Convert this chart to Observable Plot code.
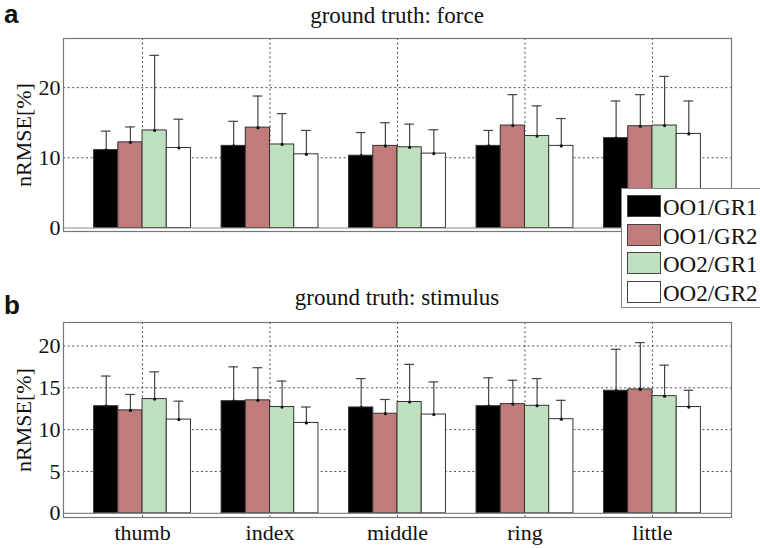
<!DOCTYPE html>
<html><head><meta charset="utf-8">
<script src="https://cdn.jsdelivr.net/npm/d3@7"></script>
<script src="https://cdn.jsdelivr.net/npm/@observablehq/plot@0.6"></script>
<style>
body{margin:0;background:#fff;}
#wrap{position:relative;width:760px;height:548px;overflow:hidden;font-family:"Liberation Serif","Times New Roman",Tinos,"DejaVu Serif",serif;color:#111;}
.abs{position:absolute;white-space:nowrap;}
.title{font-size:23px;line-height:23px;text-align:center;left:63px;width:668px;}
.ylab{font-size:22px;line-height:22px;transform:translate(-50%,-50%) rotate(-90deg);}
.plab{font-family:"Liberation Sans",Arial,sans-serif;font-weight:bold;font-size:26px;line-height:26px;left:4px;}
#legend{left:621px;top:188px;width:150px;height:118px;border:1px solid #888;background:#fff;z-index:5;}
.sw{position:absolute;left:5px;width:32px;height:20px;border:1px solid #444;}
.lt{position:absolute;left:41px;font-size:23px;line-height:21px;}
</style></head><body><div id="wrap"></div>
<script>
const fingers = ["thumb", "index", "middle", "ring", "little"];
const series = ["OO1/GR1", "OO1/GR2", "OO2/GR1", "OO2/GR2"];
const seriesColors = ["#000000", "#c27b7b", "#bfe0bf", "#ffffff"];

// (a) ground truth: force — mean per series (rows) for each finger (cols)
const forceMean = [
  [11.1, 11.7, 10.3, 11.7, 12.8],
  [12.2, 14.3, 11.7, 14.6, 14.5],
  [13.9, 11.9, 11.5, 13.1, 14.6],
  [11.4, 10.5, 10.6, 11.7, 13.4]
];
const forceErr = [
  [2.7, 3.5, 3.3, 2.2, 5.3],
  [2.2, 4.5, 3.3, 4.4, 4.5],
  [10.7, 4.4, 3.3, 4.3, 7.0],
  [4.1, 3.4, 3.4, 3.9, 4.7]
];
// (b) ground truth: stimulus
const stimMean = [
  [12.8, 13.4, 12.65, 12.8, 14.65],
  [12.3, 13.5, 11.9, 13.05, 14.8],
  [13.65, 12.7, 13.3, 12.85, 14.0],
  [11.2, 10.8, 11.8, 11.25, 12.7]
];
const stimErr = [
  [3.6, 4.1, 3.45, 3.4, 4.95],
  [1.9, 3.9, 1.7, 2.85, 5.6],
  [3.25, 3.1, 4.5, 3.25, 3.7],
  [2.2, 1.9, 3.9, 2.25, 2.0]
];
const forceTicks = [0, 10, 20];
const stimTicks = [0, 5, 10, 15, 20];
const panelTitles = ["ground truth: force", "ground truth: stimulus"];
const yLabel = "nRMSE[%]";
const serifFont = '"Liberation Serif", "Times New Roman", Tinos, "DejaVu Serif", serif';

function panel(means, errs, ticks, yMax, height, mTop, mBottom, showX) {
  const bw = 0.19;
  const rows = [];
  fingers.forEach((f, i) => series.forEach((s, j) => {
    const x1 = i + 1 + (j - 2) * bw;
    rows.push({finger: f, series: s, x1, x2: x1 + bw, xc: x1 + bw / 2,
               value: means[j][i], top: means[j][i] + errs[j][i]});
  }));
  const pos = d3.range(1, fingers.length + 1);
  const grid = {stroke: "#333", strokeOpacity: 0.85, strokeDasharray: "2,2.6"};
  const marks = [
    Plot.gridY(ticks.filter(t => t > 0), grid),
    Plot.gridX(pos, grid),
    Plot.ruleX(rows, {x: "xc", y1: "value", y2: "top", stroke: "#444", strokeWidth: 1.2}),
    Plot.ruleY(rows, {y: "top", x1: d => d.xc - 0.038, x2: d => d.xc + 0.038, stroke: "#444", strokeWidth: 1.2}),
    Plot.rect(rows, {x1: "x1", x2: "x2", y1: 0, y2: "value", fill: "series", stroke: "#333", strokeWidth: 1}),
    Plot.dot(rows, {x: "xc", y: "value", r: 1.6, fill: "#111", stroke: null}),
    Plot.ruleY([0], {stroke: "#888", strokeWidth: 1.2}),
    Plot.frame({stroke: "#777", strokeWidth: 1.2}),
    Plot.axisY(ticks, {tickSize: 0, tickPadding: 3, label: null, fill: "#111", fontFamily: serifFont})
  ];
  if (showX) marks.push(Plot.axisX(pos, {tickSize: 0, tickPadding: 7, tickFormat: d => fingers[d - 1], label: null, fill: "#111", fontFamily: serifFont}));
  return Plot.plot({
    width: 760, height, marginLeft: 63, marginRight: 29, marginTop: mTop, marginBottom: mBottom,
    style: {fontFamily: serifFont, fontSize: "22px", color: "#111", background: "transparent"},
    x: {type: "linear", domain: [0.38, 5.62], axis: null},
    y: {domain: [-0.5, yMax], axis: null},
    color: {domain: series, range: seriesColors},
    marks
  });
}

const wrap = document.getElementById("wrap");
function place(el, top) { el.style.position = "absolute"; el.style.left = "0px"; el.style.top = top + "px"; wrap.appendChild(el); }

place(panel(forceMean, forceErr, forceTicks, 27, 250, 38, 19, false), 0);
place(panel(stimMean, stimErr, stimTicks, 22.8, 268, 42, 31, true), 280);

function addDiv(cls, text, css) {
  const d = document.createElement("div");
  d.className = "abs " + cls;
  d.textContent = text;
  Object.assign(d.style, css);
  wrap.appendChild(d);
  return d;
}
addDiv("plab", "a", {top: "1px"});
addDiv("plab", "b", {top: "292px"});
addDiv("title", panelTitles[0], {top: "4px"});
addDiv("title", panelTitles[1], {top: "286px"});
addDiv("ylab", yLabel, {left: "24px", top: "134.5px"});
addDiv("ylab", yLabel, {left: "24px", top: "419.5px"});

const legend = document.createElement("div");
legend.id = "legend"; legend.className = "abs";
series.forEach((s, j) => {
  const top = 6 + j * 28.5;
  const sw = document.createElement("div");
  sw.className = "sw"; sw.style.top = top + "px"; sw.style.background = seriesColors[j];
  legend.appendChild(sw);
  const t = document.createElement("div");
  t.className = "lt"; t.style.top = (top + 2) + "px"; t.textContent = s;
  legend.appendChild(t);
});
wrap.appendChild(legend);
</script></body></html>
